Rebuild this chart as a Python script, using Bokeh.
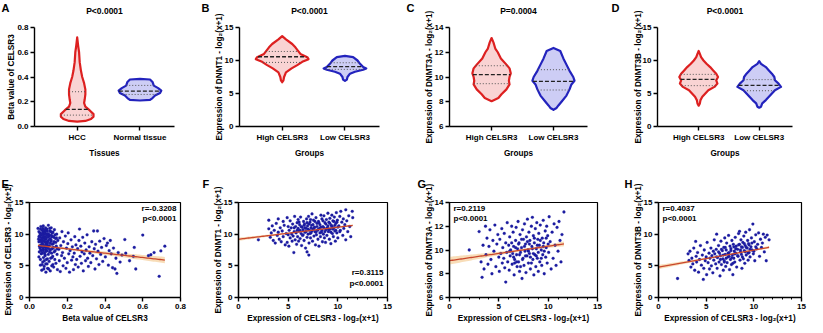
import numpy as np
from bokeh.plotting import figure
from bokeh.layouts import column, row
from bokeh.models import FixedTicker, PrintfTickFormatter, Label, Range1d
from bokeh.embed import file_html
from bokeh.resources import INLINE

# ======================= DATA =======================
group_labels = ["High CELSR3", "Low CELSR3"]

# ---- Panel A
A_categories = ["HCC", "Normal tissue"]
A_y_ticks = [0.0, 0.2, 0.4, 0.6, 0.8]
A_hcc_y = [0.04, 0.045, 0.06, 0.08, 0.10, 0.13, 0.16, 0.19, 0.22, 0.26, 0.30, 0.35, 0.40, 0.45, 0.52, 0.60, 0.65, 0.72]
A_hcc_w = [0.0, 0.13, 0.22, 0.26, 0.26, 0.20, 0.13, 0.11, 0.12, 0.13, 0.13, 0.11, 0.08, 0.06, 0.04, 0.03, 0.016, 0.0]
A_hcc_q = [0.092, 0.138, 0.281]
A_nor_y = [0.21, 0.215, 0.23, 0.25, 0.27, 0.29, 0.31, 0.33, 0.36, 0.38, 0.385]
A_nor_w = [0.0, 0.16, 0.20, 0.24, 0.32, 0.34, 0.29, 0.22, 0.20, 0.16, 0.0]
A_nor_q = [0.259, 0.286, 0.332]

# ---- Panel B
B_y_ticks = [0, 5, 10, 15]
B_high_y = [6.7, 7.0, 7.5, 8.2, 8.8, 9.3, 9.8, 10.2, 10.5, 11.0, 11.5, 12.0, 12.5, 13.2, 13.7]
B_high_w = [0.0, 0.02, 0.03, 0.06, 0.15, 0.24, 0.32, 0.42, 0.40, 0.29, 0.25, 0.21, 0.16, 0.06, 0.0]
B_high_q = [9.71, 10.57, 11.37]
B_low_y = [6.9, 7.1, 7.5, 8.0, 8.3, 8.6, 8.8, 9.0, 9.5, 10.0, 10.5, 10.7]
B_low_w = [0.0, 0.03, 0.04, 0.08, 0.16, 0.29, 0.34, 0.29, 0.24, 0.20, 0.13, 0.0]
B_low_q = [8.66, 9.06, 9.66]

# ---- Panel C
C_y_ticks = [6, 8, 10, 12, 14]
C_high_y = [8.05, 8.3, 8.6, 9.0, 9.4, 9.7, 10.0, 10.3, 10.7, 11.0, 11.5, 12.0, 12.3, 12.8, 13.15]
C_high_w = [0.0, 0.11, 0.16, 0.24, 0.29, 0.28, 0.29, 0.31, 0.29, 0.24, 0.15, 0.10, 0.06, 0.03, 0.0]
C_high_q = [9.46, 10.19, 10.91]
C_low_y = [7.35, 7.5, 7.7, 8.0, 8.5, 9.0, 9.4, 9.7, 10.0, 10.5, 11.0, 11.5, 12.1, 12.35]
C_low_w = [0.0, 0.05, 0.08, 0.13, 0.21, 0.26, 0.29, 0.34, 0.32, 0.26, 0.21, 0.16, 0.11, 0.0]
C_low_q = [8.95, 9.65, 10.59]

# ---- Panel D
D_y_ticks = [0, 5, 10, 15]
D_high_y = [3.15, 3.5, 4.0, 4.5, 5.0, 5.5, 6.0, 6.5, 7.0, 7.5, 8.0, 8.5, 9.0, 9.5, 10.0, 10.5, 11.0, 11.45]
D_high_w = [0.0, 0.02, 0.03, 0.06, 0.11, 0.16, 0.26, 0.31, 0.29, 0.32, 0.29, 0.24, 0.19, 0.13, 0.08, 0.04, 0.02, 0.0]
D_high_q = [6.19, 7.15, 7.90]
D_low_y = [2.85, 3.0, 3.5, 4.0, 4.5, 5.0, 5.5, 6.0, 6.5, 7.0, 7.5, 8.0, 8.5, 9.0, 9.5, 9.9]
D_low_w = [0.0, 0.03, 0.05, 0.11, 0.16, 0.21, 0.26, 0.36, 0.32, 0.26, 0.25, 0.21, 0.16, 0.11, 0.03, 0.0]
D_low_q = [5.42, 6.23, 7.10]

violin_p_texts = ["P<0.0001", "P<0.0001", "P=0.0004", "P<0.0001"]

# ---- Panel E (beta value vs CELSR3 expression)
E_points = [
    (0.045, 10.9), (0.05, 9.6), (0.05, 8.8), (0.052, 7.2), (0.055, 10.2), (0.057, 9.1), (0.06, 11.2), (0.06, 8.3),
    (0.062, 6.9), (0.063, 9.9), (0.065, 4.3), (0.066, 10.6), (0.068, 8.6), (0.07, 9.4), (0.07, 5.6), (0.072, 7.7),
    (0.073, 11.3), (0.074, 6.3), (0.075, 10.0), (0.076, 8.9), (0.078, 9.6), (0.078, 4.9), (0.08, 7.1), (0.08, 10.4),
    (0.082, 8.2), (0.083, 6.6), (0.085, 9.2), (0.085, 11.0), (0.086, 5.3), (0.087, 7.9), (0.088, 10.1), (0.088, 8.5),
    (0.09, 6.0), (0.09, 9.8), (0.05, 6.4), (0.055, 7.8), (0.058, 5.1), (0.065, 8.0), (0.068, 9.0), (0.072, 10.3),
    (0.076, 4.5), (0.08, 9.3), (0.084, 8.7), (0.087, 4.0), (0.06, 9.5),
    (0.048, 9.2), (0.05, 10.4), (0.053, 8.1), (0.055, 9.8), (0.058, 10.8), (0.06, 7.5), (0.062, 8.8), (0.064, 10.1),
    (0.066, 9.3), (0.068, 7.0), (0.07, 10.9), (0.071, 8.4), (0.073, 9.7), (0.074, 7.4), (0.076, 10.7), (0.077, 8.0),
    (0.079, 9.0), (0.081, 10.2), (0.082, 6.8), (0.083, 9.5), (0.085, 7.6), (0.086, 10.6), (0.088, 9.4), (0.089, 7.3),
    (0.091, 8.3), (0.092, 9.9), (0.094, 10.5), (0.096, 8.6), (0.097, 7.8), (0.099, 10.1), (0.101, 9.0), (0.103, 9.7),
    (0.105, 8.2), (0.107, 10.9), (0.109, 9.3), (0.111, 7.5), (0.113, 10.4), (0.115, 8.9), (0.118, 9.6), (0.121, 7.7),
    (0.124, 10.3), (0.126, 8.5), (0.129, 9.5), (0.131, 7.2), (0.135, 9.9), (0.139, 8.7), (0.143, 9.4), (0.147, 7.7),
    (0.058, 6.0), (0.067, 5.2), (0.079, 5.8), (0.093, 5.3), (0.101, 4.5), (0.119, 6.3), (0.064, 7.4),
    (0.092, 10.8), (0.093, 7.4), (0.095, 8.9), (0.096, 4.6), (0.098, 9.5), (0.1, 6.8), (0.1, 11.4), (0.102, 8.1),
    (0.104, 5.7), (0.105, 9.9), (0.107, 7.6), (0.108, 10.5), (0.11, 4.2), (0.11, 8.6), (0.112, 6.2), (0.114, 9.1),
    (0.115, 11.0), (0.117, 7.0), (0.118, 5.0), (0.12, 8.4), (0.12, 10.2), (0.123, 6.5), (0.125, 9.6), (0.127, 7.9),
    (0.128, 4.8), (0.13, 8.8), (0.132, 10.7), (0.134, 6.0), (0.136, 7.4), (0.138, 9.3), (0.14, 5.4), (0.142, 8.1),
    (0.144, 10.0), (0.146, 6.8), (0.148, 4.4), (0.15, 9.0), (0.095, 6.1), (0.106, 7.2), (0.116, 9.8), (0.124, 5.2),
    (0.155, 7.6), (0.158, 5.8), (0.16, 9.4), (0.163, 4.1), (0.166, 8.2), (0.17, 6.6), (0.172, 10.4), (0.175, 7.1),
    (0.178, 5.0), (0.18, 8.8), (0.185, 6.2), (0.19, 9.7), (0.193, 4.6), (0.196, 7.8), (0.2, 5.5), (0.203, 8.5),
    (0.205, 10.2), (0.208, 6.9), (0.212, 4.0), (0.215, 7.4), (0.22, 9.1), (0.223, 5.9), (0.227, 8.0), (0.23, 6.4),
    (0.233, 4.4), (0.237, 7.0), (0.24, 9.6), (0.243, 5.2), (0.246, 8.3), (0.25, 6.0),
    (0.255, 7.7), (0.258, 4.8), (0.262, 9.0), (0.265, 10.8), (0.268, 6.5), (0.272, 8.1), (0.275, 5.4), (0.278, 7.2),
    (0.282, 9.5), (0.285, 4.2), (0.29, 6.9), (0.293, 8.6), (0.297, 5.8), (0.3, 7.5), (0.305, 9.9), (0.308, 6.2),
    (0.312, 4.9), (0.316, 8.0), (0.32, 7.0), (0.325, 5.5), (0.33, 8.8), (0.335, 6.6), (0.34, 10.5), (0.343, 7.7),
    (0.347, 4.5), (0.35, 8.4), (0.355, 6.1), (0.36, 10.5), (0.363, 7.3), (0.368, 5.2), (0.372, 8.9), (0.377, 6.8),
    (0.382, 7.9), (0.388, 5.7), (0.395, 9.3),
    (0.402, 6.4), (0.407, 8.2), (0.413, 8.6), (0.418, 5.1), (0.422, 7.4), (0.428, 9.0), (0.433, 6.9), (0.44, 4.7),
    (0.445, 7.8), (0.453, 4.5), (0.458, 6.2), (0.463, 3.8), (0.47, 7.1), (0.48, 5.6), (0.49, 6.7),
    (0.505, 9.15), (0.51, 7.0), (0.53, 5.8), (0.555, 7.9), (0.55, 6.5), (0.563, 4.5), (0.6, 9.85), (0.63, 6.6),
    (0.643, 6.75), (0.66, 7.1), (0.687, 3.35), (0.696, 7.35), (0.717, 8.1),
]
E_fit = (8.37, -3.43)          # intercept, slope
E_band = (0.2, 0.5)            # CI half-width: at the centre, at the far end of the line
E_stats = ["r=-0.3208", "p<0.0001"]
E_x_ticks = [0.0, 0.2, 0.4, 0.6, 0.8]
E_y_ticks = [0, 5, 10, 15]

# ---- Panel F (CELSR3 vs DNMT1)
F_points = [
    (2.0, 9.1), (3.05, 12.2), (3.05, 10.85), (3.2, 9.5), (3.3, 10.2), (3.4, 11.3), (3.5, 9.0), (3.6, 10.6), (3.7, 8.6),
    (3.8, 11.7), (3.9, 9.8), (4.0, 10.3), (4.0, 12.4),
    (4.1, 9.2), (4.2, 11.0), (4.3, 8.8), (4.4, 10.5), (4.5, 12.0), (4.5, 9.6), (4.6, 11.4), (4.7, 8.3), (4.8, 10.1),
    (4.9, 8.7), (4.9, 12.6), (5.0, 9.9), (5.0, 11.2),
    (5.07, 8.1), (5.1, 10.6), (5.2, 12.1), (5.2, 9.4), (5.3, 11.0), (5.35, 10.0), (5.4, 8.9), (5.45, 11.6), (5.5, 9.7),
    (5.57, 7.1), (5.6, 10.4), (5.65, 12.8), (5.7, 9.1), (5.75, 11.2), (5.8, 10.2), (5.85, 8.4), (5.9, 11.8),
    (5.95, 9.6), (6.0, 10.9), (6.0, 12.3),
    (6.05, 8.9), (6.1, 10.5), (6.15, 11.5), (6.2, 9.3), (6.25, 12.7), (6.3, 10.1), (6.35, 8.2), (6.4, 11.1),
    (6.45, 9.8), (6.5, 10.7), (6.55, 12.0), (6.6, 9.0), (6.65, 11.6), (6.7, 10.3), (6.75, 7.8), (6.8, 10.9),
    (6.85, 12.4), (6.9, 7.2), (6.9, 9.5), (6.95, 11.3), (7.0, 10.0),
    (7.05, 12.8), (7.08, 6.7), (7.1, 8.6), (7.15, 10.6), (7.2, 11.9), (7.25, 9.4), (7.3, 10.2), (7.35, 11.4),
    (7.4, 13.2), (7.45, 8.9), (7.5, 10.8), (7.55, 12.2), (7.6, 9.7), (7.65, 11.1), (7.7, 10.4), (7.75, 8.3),
    (7.8, 12.6), (7.85, 9.9), (7.9, 11.7), (7.95, 10.6),
    (8.0, 9.2), (8.05, 12.0), (8.1, 8.1), (8.15, 10.9), (8.2, 11.5), (8.25, 9.6), (8.3, 13.0), (8.35, 10.3),
    (8.4, 12.4), (8.45, 8.8), (8.5, 11.2), (8.55, 10.0), (8.6, 12.9), (8.65, 9.4), (8.7, 11.8), (8.76, 8.7),
    (8.8, 10.7), (8.85, 12.3), (8.9, 9.8), (8.95, 11.0),
    (9.0, 13.3), (9.05, 10.4), (9.1, 11.9), (9.15, 9.2), (9.2, 12.5), (9.25, 10.8), (9.3, 8.5), (9.35, 11.4),
    (9.4, 13.0), (9.45, 10.1), (9.5, 12.1), (9.55, 9.6), (9.6, 11.0), (9.65, 12.7), (9.7, 10.5), (9.75, 8.9),
    (9.8, 11.7), (9.85, 13.4), (9.9, 10.2), (9.95, 12.2),
    (10.0, 9.4), (10.1, 11.3), (10.2, 12.8), (10.25, 10.6), (10.3, 13.6), (10.4, 11.9), (10.5, 9.8), (10.55, 12.4),
    (10.6, 10.9), (10.7, 11.5), (10.8, 13.85), (10.8, 9.1), (10.9, 12.1), (11.0, 10.4), (11.1, 12.9), (11.2, 11.2),
    (11.3, 9.6), (11.45, 13.6), (11.5, 12.6),
    (5.6, 11.0), (5.9, 10.6), (6.1, 11.9), (6.3, 11.2), (6.5, 9.9), (6.6, 11.4), (6.8, 10.4), (6.9, 11.8), (7.0, 10.8),
    (7.1, 11.6), (7.2, 10.1), (7.3, 11.0), (7.4, 10.5), (7.5, 11.5), (7.6, 10.9), (7.7, 12.0), (7.8, 10.3),
    (7.9, 11.2), (8.0, 10.7), (8.1, 11.8), (8.2, 10.2), (8.3, 11.1), (8.4, 10.6), (8.5, 12.1), (8.6, 11.0),
    (8.7, 10.4), (8.8, 11.6), (8.9, 10.9), (9.0, 11.3), (9.1, 10.7), (9.2, 11.7), (9.3, 10.3), (9.4, 11.2),
    (9.5, 10.8), (9.6, 12.0), (9.7, 11.4), (9.8, 10.6), (9.9, 11.9), (10.0, 11.1), (10.2, 10.4), (6.2, 10.6),
    (6.7, 11.0), (7.25, 12.3),
]
F_fit = (9.2, 0.19)
F_band = (0.08, 0.25)
F_stats = ["r=0.3115", "p<0.0001"]

# ---- Panel G (CELSR3 vs DNMT3A)
G_points = [
    (2.0, 10.0), (3.0, 11.55), (3.3, 7.7), (3.2, 9.0), (3.4, 10.4), (3.5, 8.4), (3.65, 12.0), (3.7, 9.6), (3.8, 11.0),
    (3.9, 8.8), (4.0, 10.3),
    (4.1, 11.7), (4.2, 9.2), (4.3, 8.0), (4.4, 10.8), (4.5, 9.9), (4.6, 12.1), (4.7, 8.6), (4.8, 10.5), (4.9, 11.3),
    (5.0, 9.4),
    (5.05, 8.2), (5.1, 10.9), (5.2, 9.7), (5.3, 11.8), (5.35, 8.9), (5.4, 10.2), (5.5, 9.3), (5.55, 11.4), (5.6, 8.5),
    (5.7, 7.3), (5.7, 10.6), (5.8, 9.8), (5.85, 12.3), (5.9, 9.0), (6.0, 10.4),
    (6.05, 8.3), (6.1, 11.1), (6.15, 9.5), (6.2, 10.0), (6.3, 12.0), (6.35, 8.8), (6.4, 9.7), (6.45, 11.5),
    (6.5, 10.3), (6.55, 7.9), (6.6, 9.2), (6.7, 10.8), (6.75, 11.9), (6.8, 9.6), (6.85, 8.6), (6.9, 10.1),
    (6.95, 12.4), (7.0, 9.0),
    (7.05, 10.6), (7.1, 8.2), (7.15, 11.3), (7.2, 9.8), (7.3, 10.2), (7.35, 7.6), (7.4, 11.7), (7.45, 9.3),
    (7.5, 10.9), (7.55, 8.7), (7.6, 12.2), (7.65, 9.9), (7.7, 10.5), (7.75, 8.1), (7.8, 11.1), (7.85, 9.5),
    (7.9, 12.6), (7.95, 10.0),
    (8.0, 8.9), (8.05, 11.5), (8.1, 9.7), (8.15, 10.8), (8.2, 8.4), (8.3, 12.0), (8.35, 10.3), (8.4, 12.75),
    (8.45, 9.2), (8.5, 11.2), (8.55, 7.9), (8.6, 10.6), (8.65, 9.6), (8.7, 11.8), (8.75, 8.6), (8.8, 10.1),
    (8.85, 12.3), (8.9, 9.3), (8.95, 10.9),
    (9.0, 8.2), (9.05, 11.4), (9.1, 10.4), (9.15, 9.0), (9.2, 12.1), (9.3, 10.0), (9.35, 8.7), (9.4, 11.0),
    (9.45, 9.6), (9.5, 12.5), (9.55, 10.6), (9.6, 8.0), (9.7, 11.6), (9.75, 9.4), (9.8, 10.2), (9.85, 12.0),
    (9.9, 8.9), (9.95, 11.2),
    (10.05, 9.8), (10.1, 12.8), (10.2, 10.7), (10.3, 8.4), (10.4, 11.5), (10.5, 9.3), (10.6, 12.2), (10.7, 10.4),
    (10.8, 8.7), (10.9, 11.9), (11.0, 9.9), (11.1, 12.4), (11.2, 10.8), (11.3, 9.0), (11.4, 11.3), (11.6, 13.2),
    (6.1, 9.9), (6.3, 10.6), (6.5, 9.4), (6.7, 10.2), (6.8, 9.0), (7.0, 10.5), (7.1, 9.6), (7.3, 10.9), (7.4, 9.2),
    (7.6, 10.3), (7.7, 9.5), (7.9, 10.7), (8.0, 9.9), (8.1, 10.5), (8.2, 9.4), (8.4, 10.1), (8.5, 9.7), (8.6, 11.0),
    (8.8, 9.5), (8.9, 10.4), (9.0, 9.8), (9.2, 10.8), (9.3, 9.3), (9.5, 10.3), (9.6, 9.9), (9.8, 11.0), (10.0, 10.5),
    (6.6, 8.9), (7.2, 8.6), (8.3, 8.9),
]
G_fit = (9.1, 0.122)
G_band = (0.1, 0.33)
G_stats = ["r=0.2119", "p<0.0001"]

# ---- Panel H (CELSR3 vs DNMT3B)
H_points = [
    (2.0, 3.0),
    (3.1, 6.9), (3.2, 5.85), (3.3, 7.3), (3.4, 4.8), (3.5, 6.2), (3.6, 5.3), (3.7, 7.8), (3.8, 4.3), (3.9, 8.85),
    (3.95, 6.5), (4.0, 5.6),
    (4.1, 7.1), (4.2, 4.0), (4.3, 6.0), (4.4, 8.2), (4.5, 5.1), (4.6, 6.7), (4.7, 2.85), (4.75, 4.6), (4.8, 7.5),
    (4.9, 5.8), (5.0, 6.4),
    (5.05, 3.6), (5.1, 8.7), (5.2, 5.5), (5.3, 7.0), (5.35, 4.5), (5.4, 6.2), (5.5, 7.8), (5.55, 5.0), (5.6, 6.6),
    (5.7, 3.9), (5.75, 7.3), (5.8, 5.9), (5.85, 9.1), (5.9, 6.9), (6.0, 5.3),
    (6.05, 7.6), (6.1, 10.0), (6.15, 4.6), (6.2, 6.3), (6.3, 8.2), (6.35, 5.6), (6.4, 7.0), (6.45, 3.4), (6.5, 6.6),
    (6.55, 8.9), (6.6, 5.2), (6.7, 7.4), (6.75, 6.1), (6.8, 4.3), (6.85, 7.9), (6.9, 5.8), (6.95, 9.4), (7.0, 6.8),
    (7.05, 4.9), (7.1, 7.5), (7.15, 8.6), (7.2, 5.5), (7.3, 6.4), (7.35, 9.8), (7.4, 7.1), (7.45, 4.4), (7.5, 8.1),
    (7.55, 6.0), (7.6, 7.7), (7.65, 5.2), (7.7, 9.0), (7.75, 6.7), (7.8, 3.6), (7.85, 8.4), (7.9, 6.2), (7.95, 7.3),
    (8.0, 5.6), (8.05, 9.5), (8.1, 7.0), (8.15, 8.1), (8.2, 4.8), (8.3, 7.6), (8.35, 6.5), (8.4, 10.1), (8.5, 8.4),
    (8.5, 10.45), (8.55, 5.9), (8.6, 7.2), (8.65, 9.1), (8.7, 6.8), (8.75, 4.6), (8.8, 7.9), (8.85, 8.7), (8.9, 6.1),
    (8.95, 9.7),
    (9.0, 7.4), (9.05, 5.4), (9.1, 8.2), (9.15, 10.3), (9.2, 6.7), (9.3, 7.8), (9.35, 9.0), (9.4, 5.9), (9.45, 8.5),
    (9.5, 7.1), (9.55, 10.7), (9.6, 6.4), (9.7, 8.0), (9.75, 9.4), (9.8, 7.5), (9.9, 11.6), (9.95, 6.9),
    (10.05, 8.8), (10.1, 5.8), (10.2, 9.9), (10.3, 7.7), (10.4, 8.4), (10.5, 10.2), (10.6, 6.5), (10.7, 9.2),
    (10.8, 7.9), (10.9, 8.6), (11.0, 10.0), (11.1, 7.2), (11.2, 9.5), (11.4, 9.85), (11.6, 9.1), (11.3, 5.8),
    (6.1, 6.4), (6.3, 7.2), (6.5, 6.0), (6.6, 7.6), (6.8, 6.7), (7.0, 7.9), (7.1, 6.2), (7.3, 7.0), (7.4, 6.5),
    (7.6, 7.4), (7.7, 6.3), (7.9, 8.0), (8.0, 6.9), (8.1, 7.7), (8.3, 6.6), (8.4, 8.3), (8.6, 7.5), (8.7, 8.0),
    (8.8, 6.4), (9.0, 8.5), (9.1, 7.2), (9.2, 7.9), (9.4, 7.0), (9.5, 8.3), (9.6, 7.6), (9.8, 8.6), (10.0, 7.3),
    (10.2, 8.0), (6.9, 5.6), (7.8, 5.4),
]
H_fit = (4.8, 0.27)
H_band = (0.1, 0.33)
H_stats = ["r=0.4037", "p<0.0001"]

expr_x_ticks = [0, 5, 10, 15]
expr_x_minor = list(range(0, 16))
G_y_ticks = [6, 8, 10, 12, 14]
F_y_ticks = [0, 5, 10, 15]
H_y_ticks = [0, 5, 10, 15]

# ======================= STYLE =======================
FONT = "Liberation Sans"
RED, RED_FILL = "#dd2020", "#f9d3d3"
BLUE, BLUE_FILL = "#2323bd", "#cdcdf5"
DOT = "#1b1ba0"
FIT, BAND = "#c9472c", "#f6d4a6"
TOP_H, BOT_H = 160, 165
TOP_FRAME_H, BOT_FRAME_H = 99, 96
TOP_BORDER_T, BOT_BORDER_T = 27, 42
LOG2 = "log\u2082(x+1)"


def style_axes(p, ylab_standoff=4):
    for ax in list(p.xaxis) + list(p.yaxis):
        ax.axis_line_color = "black"
        ax.axis_line_width = 1.4
        ax.major_tick_line_color = "black"
        ax.major_tick_line_width = 1.4
        ax.major_tick_in = 0
        ax.major_tick_out = 4
        ax.minor_tick_line_color = None
        ax.major_label_text_font = FONT
        ax.major_label_text_font_style = "bold"
        ax.major_label_text_font_size = "8px"
        ax.major_label_text_color = "black"
        ax.major_label_standoff = 2
        ax.axis_label_text_font = FONT
        ax.axis_label_text_font_style = "bold"
        ax.axis_label_text_font_size = "8.2px"
        ax.axis_label_text_color = "black"
    p.xaxis.axis_label_standoff = 4
    p.yaxis.axis_label_standoff = ylab_standoff


def make_label(x, y, text, size="8px", align="center"):
    return Label(x=x, y=y, x_units="screen", y_units="screen", text=text,
                 text_font=FONT, text_font_style="bold", text_font_size=size,
                 text_align=align, text_baseline="middle", text_color="black")


def violin_panel(letter, ptext, cats, ylab, xlab, yticks, yfmt, groups, width, left, right, ylab_standoff):
    fw = width - left - right
    p = figure(width=width, height=TOP_H, output_backend="svg", toolbar_location=None,
               x_range=Range1d(-0.68, 1.55), y_range=Range1d(yticks[0], yticks[-1] + 1e-9),
               min_border_left=left, min_border_right=right, min_border_top=TOP_BORDER_T,
               min_border_bottom=TOP_H - TOP_BORDER_T - TOP_FRAME_H)
    p.outline_line_color = None
    p.xgrid.visible = False
    p.ygrid.visible = False
    for i, (ys, ws, qs, col, fill) in enumerate(groups):
        ys = np.asarray(ys, float)
        ws = np.asarray(ws, float)
        xs = np.concatenate([i - ws, (i + ws)[::-1]])
        yy = np.concatenate([ys, ys[::-1]])
        p.patch(xs, yy, fill_color=fill, line_color=col, line_width=2.2, line_join="round")
        for k, q in enumerate(qs):
            hw = float(np.interp(q, ys, ws))
            if k == 1:
                p.line([i - hw, i + hw], [q, q], line_color="#222222", line_width=1.3, line_dash="4 2")
            else:
                p.line([i - hw, i + hw], [q, q], line_color="#555555", line_width=1.0, line_dash="1 2")
    p.xaxis.ticker = FixedTicker(ticks=list(range(len(cats))))
    p.xaxis.major_label_overrides = {i: c for i, c in enumerate(cats)}
    p.yaxis.ticker = FixedTicker(ticks=yticks)
    p.yaxis.formatter = PrintfTickFormatter(format=yfmt)
    p.xaxis.axis_label = xlab
    p.yaxis.axis_label = ylab
    style_axes(p, ylab_standoff)
    # first "above" label sits next to the frame, the second one stacks above it
    p.add_layout(make_label(fw / 2, 16.5, ptext, size="8.5px"), "above")
    p.add_layout(make_label(-left + 1, 10, letter, size="11px", align="left"), "above")
    return p


def band_halfwidth(pts, xs, band):
    xm = float(np.mean([q[0] for q in pts]))
    c, e = band
    dmax = float(np.max(np.abs(xs - xm)))
    k = (e ** 2 - c ** 2) / dmax ** 2
    return np.sqrt(c ** 2 + k * (xs - xm) ** 2)


def scatter_panel(letter, pts, fit, band, stats, xticks, xfmt, minor, yticks, yfmt, xlab, ylab,
                  width, left, right, letter_dx, stats_where, line_from_zero, ylab_standoff):
    fw = width - left - right
    p = figure(width=width, height=BOT_H, output_backend="svg", toolbar_location=None,
               x_range=Range1d(xticks[0], xticks[-1] + 1e-9), y_range=Range1d(yticks[0], yticks[-1] + 1e-9),
               min_border_left=left, min_border_right=right, min_border_top=BOT_BORDER_T,
               min_border_bottom=BOT_H - BOT_BORDER_T - BOT_FRAME_H)
    p.outline_line_color = "black"
    p.outline_line_width = 1.2
    p.xgrid.visible = False
    p.ygrid.visible = False
    xs_pts = [q[0] for q in pts]
    ys_pts = [q[1] for q in pts]
    x0 = xticks[0] if line_from_zero else min(xs_pts)
    bx = np.linspace(x0, max(xs_pts), 80)
    by = fit[0] + fit[1] * bx
    hw = band_halfwidth(pts, bx, band)
    p.varea(x=bx, y1=by - hw, y2=by + hw, fill_color=BAND, fill_alpha=0.8)
    p.scatter(xs_pts, ys_pts, marker="circle", size=2.8, fill_color=DOT, line_color=DOT, line_width=0.3)
    p.line(bx, by, line_color=FIT, line_width=1.3)
    if minor:
        p.xaxis.ticker = FixedTicker(ticks=xticks, minor_ticks=minor)
    else:
        p.xaxis.ticker = FixedTicker(ticks=xticks)
    p.xaxis.formatter = PrintfTickFormatter(format=xfmt)
    p.yaxis.ticker = FixedTicker(ticks=yticks)
    p.yaxis.formatter = PrintfTickFormatter(format=yfmt)
    p.xaxis.axis_label = xlab
    p.yaxis.axis_label = ylab
    style_axes(p, ylab_standoff)
    p.xaxis.axis_label_standoff = 2
    if minor:
        p.xaxis.minor_tick_line_color = "black"
        p.xaxis.minor_tick_line_width = 1.0
        p.xaxis.minor_tick_in = 0
        p.xaxis.minor_tick_out = 2
    if stats_where == "top_right":
        p.add_layout(make_label(fw - 4, BOT_FRAME_H - 7, stats[0], align="right"))
        p.add_layout(make_label(fw - 4, BOT_FRAME_H - 17, stats[1], align="right"))
    elif stats_where == "bottom_right":
        p.add_layout(make_label(fw - 4, 25, stats[0], align="right"))
        p.add_layout(make_label(fw - 4, 14, stats[1], align="right"))
    else:
        p.add_layout(make_label(4, BOT_FRAME_H - 7, stats[0], align="left"))
        p.add_layout(make_label(4, BOT_FRAME_H - 17, stats[1], align="left"))
    p.add_layout(make_label(letter_dx, 19, letter, size="11px", align="left"), "above")
    return p


pA = violin_panel("A", violin_p_texts[0], A_categories, "Beta value of CELSR3", "Tissues",
                  A_y_ticks, "%.1f",
                  [(A_hcc_y, A_hcc_w, A_hcc_q, RED, RED_FILL), (A_nor_y, A_nor_w, A_nor_q, BLUE, BLUE_FILL)],
                  200, 34, 26, -2)
pB = violin_panel("B", violin_p_texts[1], group_labels, "Expression of DNMT1 - " + LOG2, "Groups",
                  B_y_ticks, "%d",
                  [(B_high_y, B_high_w, B_high_q, RED, RED_FILL), (B_low_y, B_low_w, B_low_q, BLUE, BLUE_FILL)],
                  205, 39, 26, -2)
pC = violin_panel("C", violin_p_texts[2], group_labels, "Expression of DNMT3A - " + LOG2, "Groups",
                  C_y_ticks, "%d",
                  [(C_high_y, C_high_w, C_high_q, RED, RED_FILL), (C_low_y, C_low_w, C_low_q, BLUE, BLUE_FILL)],
                  205, 44, 23, -2)
pD = violin_panel("D", violin_p_texts[3], group_labels, "Expression of DNMT3B - " + LOG2, "Groups",
                  D_y_ticks, "%d",
                  [(D_high_y, D_high_w, D_high_q, RED, RED_FILL), (D_low_y, D_low_w, D_low_q, BLUE, BLUE_FILL)],
                  197, 47, 15, -3)

pE = scatter_panel("E", E_points, E_fit, E_band, E_stats, E_x_ticks, "%.1f", None, E_y_ticks, "%d",
                   "Beta value of CELSR3", "Expression of CELSR3 - " + LOG2,
                   200, 29, 20, -28, "top_right", False, -1)
pF = scatter_panel("F", F_points, F_fit, F_band, F_stats, expr_x_ticks, "%d", expr_x_minor, F_y_ticks, "%d",
                   "Expression of CELSR3 - " + LOG2, "Expression of DNMT1 - " + LOG2,
                   205, 38, 18, -36, "bottom_right", True, -2)
pG = scatter_panel("G", G_points, G_fit, G_band, G_stats, expr_x_ticks, "%d", expr_x_minor, G_y_ticks, "%d",
                   "Expression of CELSR3 - " + LOG2, "Expression of DNMT3A - " + LOG2,
                   205, 44, 13, -32, "top_left", True, -2)
pH = scatter_panel("H", H_points, H_fit, H_band, H_stats, expr_x_ticks, "%d", expr_x_minor, H_y_ticks, "%d",
                   "Expression of CELSR3 - " + LOG2, "Expression of DNMT3B - " + LOG2,
                   197, 48, 6, -34, "top_left", True, -2)

layout = column(row(pA, pB, pC, pD, spacing=0), row(pE, pF, pG, pH, spacing=0), spacing=0)
open("out.html", "w").write(file_html(layout, INLINE))
